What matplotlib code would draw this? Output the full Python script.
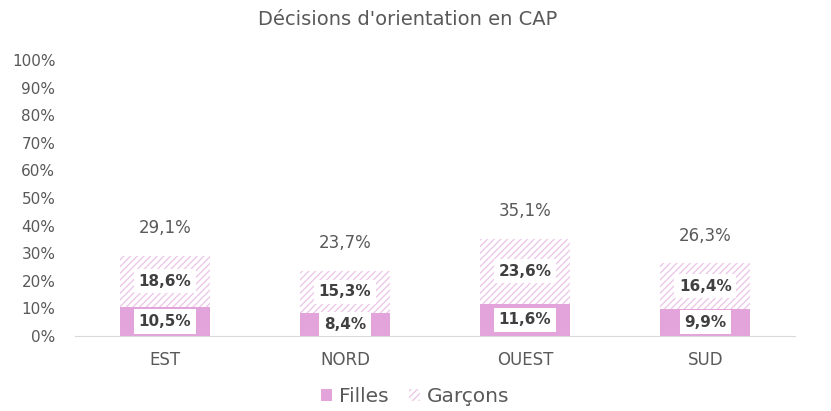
import matplotlib.pyplot as plt
import numpy as np

plt.rcParams['font.family'] = ['DejaVu Sans']
plt.rcParams['hatch.linewidth'] = 1.0

# Data
regions = ['EST', 'NORD', 'OUEST', 'SUD']
filles = [10.5, 8.4, 11.6, 9.9]
garcons = [18.6, 15.3, 23.6, 16.4]
totals = [29.1, 23.7, 35.1, 26.3]

pink = '#E3A4DC'
hatch_col = '#EDC8E8'
grey = '#595959'
x = np.arange(len(regions))

fig = plt.figure(figsize=(8.31, 4.11), dpi=100)
ax = fig.add_axes([0.09, 0.1825, 0.867, 0.6715])

b1 = ax.bar(x, filles, width=0.5, color=pink, label='Filles', zorder=2)
plt.rcParams['hatch.color'] = hatch_col
b2 = ax.bar(x, garcons, width=0.5, bottom=filles, color='white', edgecolor=hatch_col,
            hatch='/////', linewidth=0, label='Garçons', zorder=2)

box = dict(boxstyle='square,pad=0.3', fc='white', ec='none')
for i in range(len(regions)):
    ax.text(x[i], filles[i] / 2, f'{filles[i]:.1f}%'.replace('.', ','), ha='center', va='center',
            fontsize=11, fontweight='bold', color='#404040', bbox=box, zorder=3)
    ax.text(x[i], filles[i] + garcons[i] / 2, f'{garcons[i]:.1f}%'.replace('.', ','), ha='center',
            va='center', fontsize=11, fontweight='bold', color='#404040', bbox=box, zorder=3)
    ax.annotate(f'{totals[i]:.1f}%'.replace('.', ','), xy=(x[i], totals[i]), xytext=(0, 20),
                textcoords='offset points', ha='center', va='center', fontsize=12, color=grey)

ax.set_xlim(-0.5, len(regions) - 0.5)
ax.set_ylim(0, 100)
ax.set_yticks(np.arange(0, 101, 10))
ax.set_yticklabels([f'{v}%' for v in range(0, 101, 10)], fontsize=11, color=grey)
ax.set_xticks(x)
ax.set_xticklabels(regions, fontsize=12, color=grey)
ax.tick_params(axis='y', length=0, pad=14)
ax.tick_params(axis='x', length=0, pad=11)
for s in ['top', 'right', 'left']:
    ax.spines[s].set_visible(False)
ax.spines['bottom'].set_color('#D9D9D9')

fig.suptitle("Décisions d'orientation en CAP", x=0.491, y=0.975, fontsize=14, color=grey)
fig.legend(handles=[b1, b2], loc='center', bbox_to_anchor=(0.5, 0.035), ncol=2, frameon=False,
           fontsize=14.5, handlelength=0.55, handleheight=0.55, handletextpad=0.35, columnspacing=1.0,
           labelcolor=grey)

fig.savefig('out.png', dpi=100)
